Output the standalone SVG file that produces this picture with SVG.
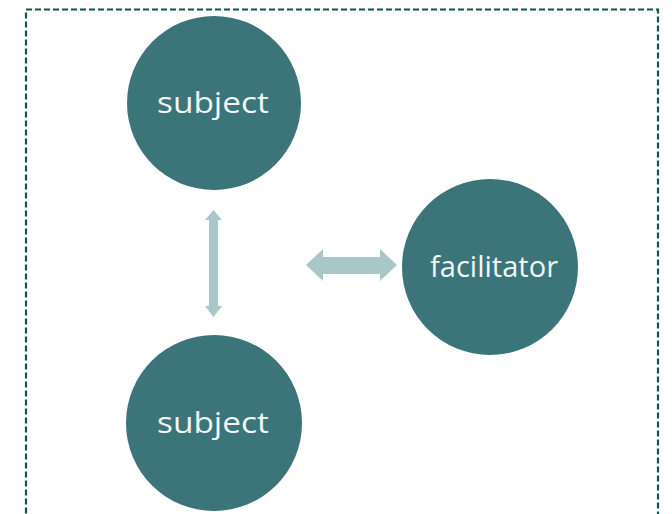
<svg xmlns="http://www.w3.org/2000/svg" width="672" height="514" viewBox="0 0 672 514">
<style>
.node{fill:#3b7579}
.lbl{font-family:"Open Sans","Noto Sans",sans-serif;font-size:30px;fill:#f2f6f6;text-anchor:middle}
.arr{fill:#a9c6c9}
</style>
<rect width="672" height="514" fill="#ffffff"/>
<rect x="26" y="9.5" width="632" height="520" fill="none" stroke="#0e5553" stroke-width="2.2" stroke-dasharray="6 3"/>
<g id="subject-top"><circle class="node" cx="214" cy="103" r="87"/><text class="lbl" x="213" y="113" textLength="112" lengthAdjust="spacingAndGlyphs">subject</text></g>
<g id="subject-bottom"><circle class="node" cx="214" cy="423" r="88"/><text class="lbl" x="213" y="433" textLength="112" lengthAdjust="spacingAndGlyphs">subject</text></g>
<g id="facilitator"><circle class="node" cx="490" cy="267" r="88"/><text class="lbl" x="494" y="277" textLength="128" lengthAdjust="spacingAndGlyphs">facilitator</text></g>
<g id="connectors">
<polygon class="arr" points="213.5,210 222,220 218,220 218,306 222,306 213.5,317 205,306 209,306 209,220 205,220"/>
<polygon class="arr" points="306,265 323,249 323,257 380,257 380,249 397,265 380,281 380,274 323,274 323,281"/>
</g>
</svg>
